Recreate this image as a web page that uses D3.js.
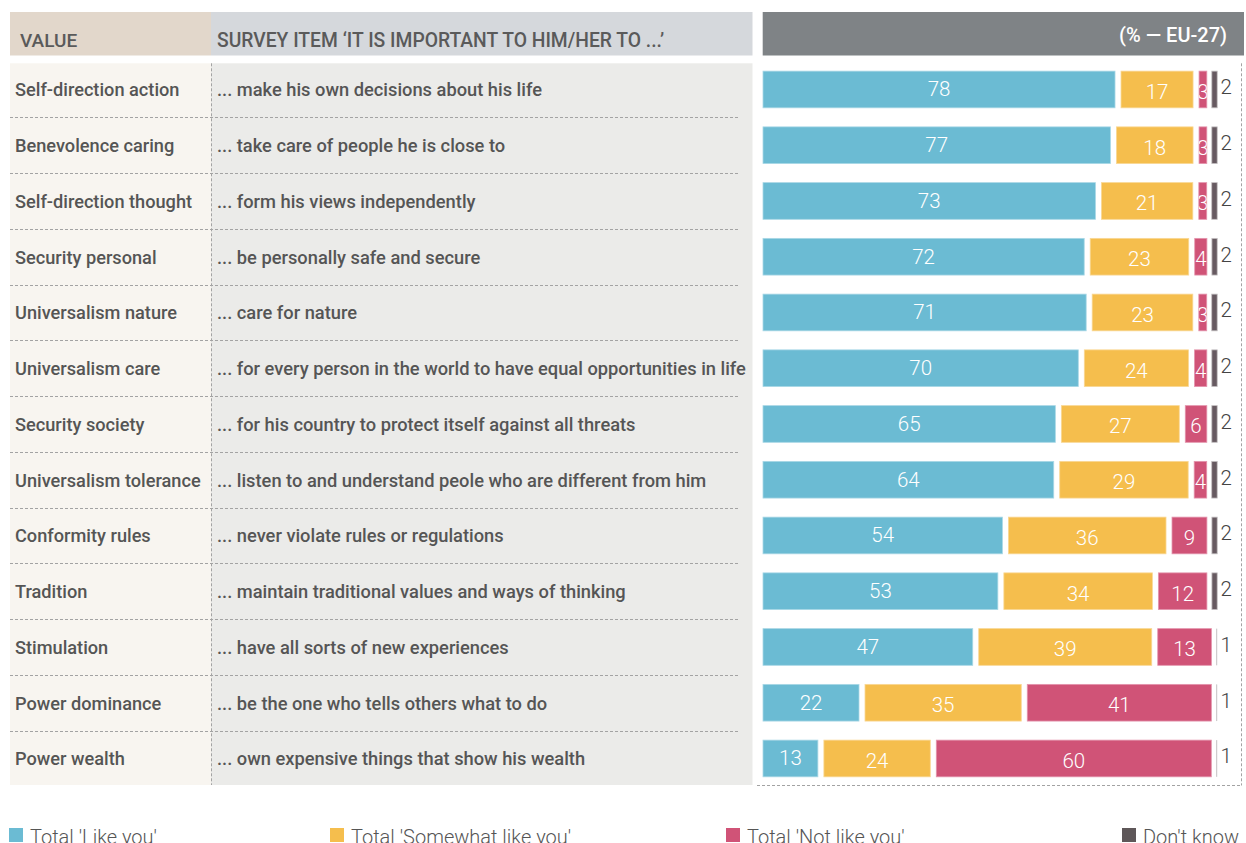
<!DOCTYPE html>
<html>
<head>
<meta charset="utf-8">
<script src="https://cdn.jsdelivr.net/npm/d3@7"></script>
<style>
  html, body { margin: 0; padding: 0; background: #ffffff; }
  svg { display: block; font-family: Roboto, "Noto Sans", sans-serif; }
</style>
</head>
<body>
<svg id="chart" width="1246" height="843"></svg>
<script>
// ---- Data ----
const values = [
  "Self-direction action", "Benevolence caring", "Self-direction thought",
  "Security personal", "Universalism nature", "Universalism care",
  "Security society", "Universalism tolerance", "Conformity rules",
  "Tradition", "Stimulation", "Power dominance", "Power wealth"
];
const items = [
  "... make his own decisions about his life",
  "... take care of people he is close to",
  "... form his views independently",
  "... be personally safe and secure",
  "... care for nature",
  "... for every person in the world to have equal opportunities in life",
  "... for his country to protect itself against all threats",
  "... listen to and understand peole who are different from him",
  "... never violate rules or regulations",
  "... maintain traditional values and ways of thinking",
  "... have all sorts of new experiences",
  "... be the one who tells others what to do",
  "... own expensive things that show his wealth"
];
const likeYou     = [78, 77, 73, 72, 71, 70, 65, 64, 54, 53, 47, 22, 13];
const somewhatLike = [17, 18, 21, 23, 23, 24, 27, 29, 36, 34, 39, 35, 24];
const notLikeYou  = [3, 3, 3, 4, 3, 4, 6, 4, 9, 12, 13, 41, 60];
const dontKnow    = [2, 2, 2, 2, 2, 2, 2, 2, 2, 2, 1, 1, 1];
const seriesNames = ["Total 'Like you'", "Total 'Somewhat like you'", "Total 'Not like you'", "Don't know"];
const headerLabels = ["VALUE", "SURVEY ITEM \u2018IT IS IMPORTANT TO HIM/HER TO ...\u2019", "(% \u2014 EU-27)"];

// ---- Styles ----
const colors = ["#6bbbd3", "#f5be4d", "#d05377", "#675a61"];
const strokes = ["#a9d8e6", "#f9d894", "#e495ad", "#c4c0c2"];
const legendColors = ["#6bbbd3", "#f5be4d", "#d05377", "#5e5759"];
const textColor = "#555555";

const svg = d3.select("#chart");

// layout
const rowTop = 61.6, rowStep = 55.75;
const rows = d3.scaleBand().domain(d3.range(values.length))
  .range([rowTop, rowTop + rowStep * values.length]).padding(0);
const barH = 36.7;
const barX0 = 760, barX1 = 1219, gap = 3;

// ---- header ----
svg.append("rect").attr("x", 10).attr("y", 12).attr("width", 201).attr("height", 43.5).attr("fill", "#e2d7cb");
svg.append("rect").attr("x", 211).attr("y", 12).attr("width", 541.5).attr("height", 43.5).attr("fill", "#d5d8dc");
svg.append("rect").attr("x", 762.7).attr("y", 12).attr("width", 481.3).attr("height", 43.5).attr("fill", "#7f8386");
svg.append("text").attr("x", 20).attr("y", 47).attr("fill", "#5a5a5a")
  .attr("font-size", 19).attr("font-weight", 500).text(headerLabels[0]);
svg.append("text").attr("x", 217).attr("y", 47).attr("fill", "#5a5a5a")
  .attr("font-size", 19.3).attr("font-weight", 500).text(headerLabels[1]);
svg.append("text").attr("x", 1227).attr("y", 42).attr("fill", "#ffffff").attr("text-anchor", "end")
  .attr("font-size", 20).attr("font-weight", 500).text(headerLabels[2]);

// ---- body backgrounds ----
const bodyTop = 63.3, bodyBottom = 785;
svg.append("rect").attr("x", 10).attr("y", bodyTop).attr("width", 201).attr("height", bodyBottom - bodyTop).attr("fill", "#f8f5f0");
svg.append("rect").attr("x", 211).attr("y", bodyTop).attr("width", 541.5).attr("height", bodyBottom - bodyTop).attr("fill", "#ebebe9");

const dash = "3,2";
const dashColor = "#a3a3a3";
// row separators
svg.append("g").selectAll("line").data(d3.range(1, values.length)).join("line")
  .attr("x1", 10).attr("x2", 740)
  .attr("y1", d => Math.round(rows(d)) + 0.5).attr("y2", d => Math.round(rows(d)) + 0.5)
  .attr("stroke", dashColor).attr("stroke-width", 1).attr("stroke-dasharray", dash);
// vertical separator between columns
svg.append("line").attr("x1", 211.5).attr("x2", 211.5).attr("y1", bodyTop).attr("y2", bodyBottom)
  .attr("stroke", dashColor).attr("stroke-dasharray", dash);
// right panel dashed frame
svg.append("line").attr("x1", 1241.5).attr("x2", 1241.5).attr("y1", bodyTop).attr("y2", 785.5)
  .attr("stroke", dashColor).attr("stroke-dasharray", dash);
svg.append("line").attr("x1", 757).attr("x2", 1241.5).attr("y1", 785.5).attr("y2", 785.5)
  .attr("stroke", dashColor).attr("stroke-dasharray", dash);

// ---- row labels ----
const rowG = svg.append("g");
rowG.selectAll("text.val").data(values).join("text").attr("class", "val")
  .attr("x", 15).attr("y", (d, i) => rows(i) + rows.bandwidth() / 2 + 7)
  .attr("fill", textColor).attr("font-size", 18.2).attr("font-weight", 500).text(d => d);
rowG.selectAll("text.item").data(items).join("text").attr("class", "item")
  .attr("x", 217).attr("y", (d, i) => rows(i) + rows.bandwidth() / 2 + 7)
  .attr("fill", textColor).attr("font-size", 18.3).attr("font-weight", 500).text(d => d);

// ---- bars ----
const table = values.map((v, i) => {
  const vals = [likeYou[i], somewhatLike[i], notLikeYou[i], dontKnow[i]];
  const total = d3.sum(vals);
  const x = d3.scaleLinear().domain([0, total]).range([barX0, barX1]);
  let cum = 0;
  const segs = vals.map((val, k) => {
    const s = { row: i, k, val, a: x(cum), b: x(cum + val) };
    cum += val;
    return s;
  });
  return { i, segs };
});

const defs = svg.append("defs");
const barG = svg.append("g");
table.forEach(r => {
  const y = rows(r.i) + (rows.bandwidth() - barH) / 2;
  r.segs.forEach(s => {
    const left = s.k === 3 ? 2 : gap;
    const right = s.k === 3 ? 1.8 : gap;
    const w = s.b - s.a - left - right;
    const tiny = w < 1.5;
    const rx = tiny ? s.b - right - 1 : s.a + left;
    const rw = tiny ? 1 : w;
    barG.append("rect")
      .attr("x", rx).attr("y", y).attr("width", rw).attr("height", barH)
      .attr("fill", tiny ? strokes[s.k] : colors[s.k])
      .attr("stroke", tiny ? "none" : strokes[s.k]).attr("stroke-width", 0.8);
    if (s.k < 3) {
      const id = `clip-${s.row}-${s.k}`;
      defs.append("clipPath").attr("id", id).append("rect")
        .attr("x", rx).attr("y", y).attr("width", rw).attr("height", barH);
      barG.append("text")
        .attr("clip-path", `url(#${id})`)
        .attr("x", (s.a + s.b) / 2).attr("y", y + barH / 2 + 7 + (s.k === 0 ? 0 : 2.5))
        .attr("text-anchor", "middle").attr("fill", "#ffffff")
        .attr("font-size", 20.5).attr("font-weight", 300).text(s.val);
    } else {
      barG.append("text")
        .attr("x", barX1 + 1.5).attr("y", y + barH / 2 + 5)
        .attr("fill", "#444444").attr("font-size", 20.5).attr("font-weight", 300).text(s.val);
    }
  });
});

// ---- legend ----
const legendX = [9, 330, 726, 1122];
const lg = svg.append("g").selectAll("g").data(seriesNames).join("g")
  .attr("transform", (d, i) => `translate(${legendX[i]},828)`);
lg.append("rect").attr("width", 14).attr("height", 14).attr("fill", (d, i) => legendColors[i]);
lg.append("text").attr("x", 21).attr("y", 16).attr("fill", textColor)
  .attr("font-size", 20).attr("font-weight", 300).text(d => d);
</script>
</body>
</html>
